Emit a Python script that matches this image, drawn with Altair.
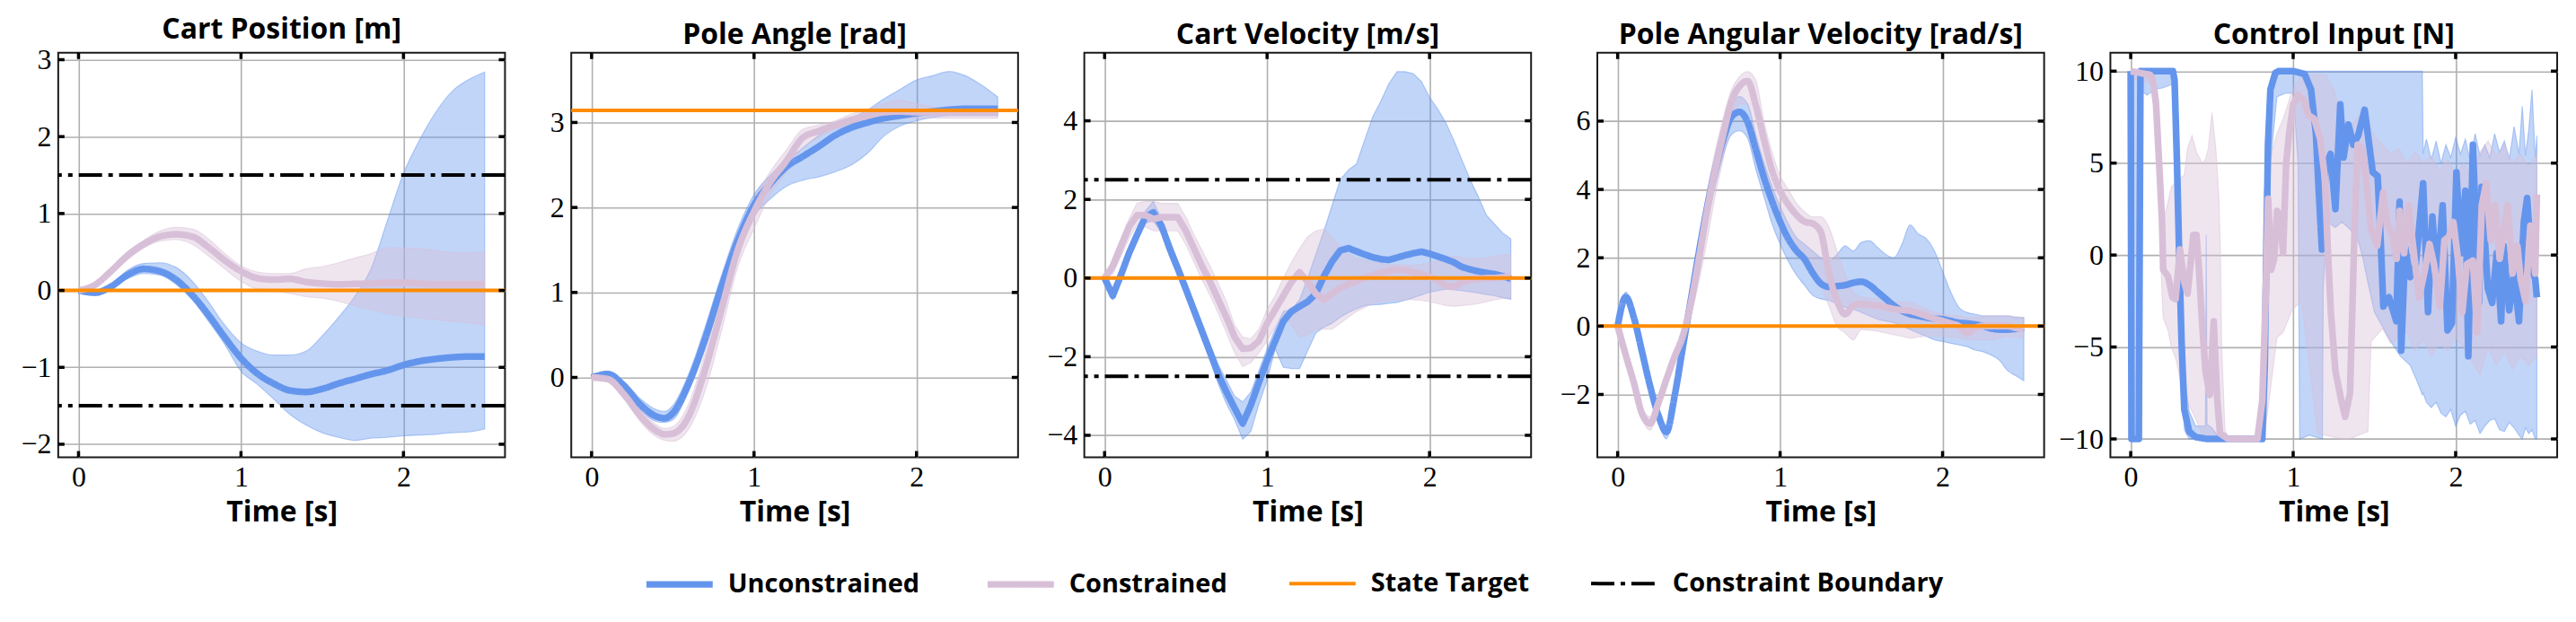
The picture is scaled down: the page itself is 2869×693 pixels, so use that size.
import altair as alt
import pandas as pd

# ---------------- shared text / ticks ----------------
SERIES = ["Unconstrained", "Constrained", "State Target", "Constraint Boundary"]
SERIES_COLORS = ["#6495ED", "#D8BFD8", "#FF8C00", "#000000"]
SERIES_DASH = [[1, 0], [1, 0], [1, 0], [26, 7, 5, 7]]
SERIES_WIDTH = [7.5, 7.5, 4, 4]
TITLES = ["Cart Position [m]", "Pole Angle [rad]", "Cart Velocity [m/s]",
          "Pole Angular Velocity [rad/s]", "Control Input [N]"]
X_TITLE = "Time [s]"
X_TICKS = [0, 1, 2]
X_DOMAIN = [-0.125, 2.625]

# ---------------- Panel 1: Cart Position ----------------
T1 = [0.0, 0.1, 0.2, 0.3, 0.4, 0.5, 0.6, 0.7, 0.8, 0.9, 1.0, 1.1, 1.2, 1.3, 1.4, 1.5,
      1.6, 1.7, 1.8, 1.9, 2.0, 2.1, 2.2, 2.3, 2.4, 2.5]
P1_U_MEAN = [0, -0.03, 0.05, 0.2, 0.28, 0.25, 0.14, -0.06, -0.32, -0.61, -0.88, -1.08, -1.21,
             -1.30, -1.32, -1.28, -1.21, -1.15, -1.09, -1.04, -0.97, -0.92, -0.89, -0.87, -0.86, -0.86]
P1_U_HI = [0, 0, 0.07, 0.26, 0.35, 0.36, 0.3, 0.12, -0.15, -0.45, -0.68, -0.79, -0.84, -0.84,
           -0.79, -0.59, -0.35, -0.08, 0.28, 0.9, 1.52, 1.96, 2.32, 2.59, 2.74, 2.84]
P1_U_LO = [0, -0.05, 0.03, 0.15, 0.22, 0.2, 0.08, -0.12, -0.4, -0.7, -1.05, -1.22, -1.41, -1.61,
           -1.75, -1.85, -1.91, -1.95, -1.92, -1.91, -1.89, -1.88, -1.87, -1.85, -1.84, -1.80]
P1_C_MEAN = [0, 0.07, 0.25, 0.45, 0.6, 0.7, 0.73, 0.7, 0.56, 0.39, 0.25, 0.16, 0.14, 0.15, 0.11,
             0.09, 0.08, 0.085, 0.09, 0.1, 0.1, 0.09, 0.08, 0.08, 0.08, 0.08]
P1_C_HI = [0.02, 0.09, 0.28, 0.5, 0.65, 0.77, 0.82, 0.8, 0.67, 0.48, 0.32, 0.24, 0.22, 0.22, 0.28,
           0.31, 0.36, 0.42, 0.48, 0.55, 0.55, 0.54, 0.52, 0.49, 0.49, 0.5]
P1_C_LO = [-0.02, 0.05, 0.22, 0.4, 0.55, 0.64, 0.66, 0.6, 0.45, 0.28, 0.12, 0.02, 0.0, -0.04, -0.08,
           -0.1, -0.14, -0.2, -0.25, -0.3, -0.33, -0.36, -0.38, -0.4, -0.42, -0.45]
P1_Y_DOMAIN = [-2.17, 3.09]
P1_Y_TICKS = [-2, -1, 0, 1, 2, 3]
P1_TARGET = [0.0]
P1_BOUNDS = [-1.5, 1.5]

# ---------------- Panel 2: Pole Angle ----------------
T2 = [0.0, 0.1, 0.2, 0.3, 0.4, 0.45, 0.5, 0.6, 0.7, 0.8, 0.9, 1.0, 1.1, 1.2, 1.3, 1.4, 1.5,
      1.6, 1.7, 1.8, 1.9, 2.0, 2.1, 2.2, 2.3, 2.4, 2.5]
P2_U_MEAN = [0, 0.04, -0.1, -0.32, -0.46, -0.48, -0.42, -0.06, 0.46, 1.07, 1.61, 2.03, 2.28, 2.48,
             2.6, 2.72, 2.85, 2.94, 3.0, 3.05, 3.08, 3.11, 3.13, 3.15, 3.16, 3.16, 3.16]
P2_U_HI = [0, 0.07, -0.05, -0.25, -0.38, -0.4, -0.33, 0.05, 0.6, 1.2, 1.75, 2.15, 2.38, 2.55, 2.7,
           2.85, 2.95, 3.05, 3.15, 3.28, 3.39, 3.5, 3.55, 3.6, 3.55, 3.44, 3.3]
P2_U_LO = [0, 0.02, -0.14, -0.38, -0.52, -0.53, -0.5, -0.15, 0.35, 0.95, 1.5, 1.9, 2.1, 2.25, 2.32,
           2.36, 2.42, 2.5, 2.64, 2.84, 2.96, 3.02, 3.06, 3.08, 3.08, 3.08, 3.08]
P2_C_MEAN = [0, -0.02, -0.2, -0.45, -0.63, -0.67, -0.66, -0.45, 0.1, 0.8, 1.5, 1.95, 2.3, 2.55,
             2.82, 2.9, 2.97, 3.03, 3.08, 3.12, 3.13, 3.12, 3.12, 3.12, 3.12, 3.12, 3.12]
P2_C_HI = [0.02, 0.03, -0.14, -0.38, -0.56, -0.6, -0.58, -0.3, 0.3, 1.0, 1.65, 2.1, 2.42, 2.68,
           2.92, 2.97, 3.02, 3.1, 3.15, 3.22, 3.26, 3.22, 3.18, 3.16, 3.15, 3.15, 3.15]
P2_C_LO = [-0.02, -0.05, -0.25, -0.52, -0.7, -0.74, -0.75, -0.6, -0.15, 0.55, 1.3, 1.75, 2.15,
           2.42, 2.7, 2.82, 2.92, 2.97, 3.02, 3.04, 3.05, 3.05, 3.05, 3.05, 3.05, 3.05, 3.05]
P2_Y_DOMAIN = [-0.94, 3.82]
P2_Y_TICKS = [0, 1, 2, 3]
P2_TARGET = [3.14159]

# ---------------- Panels 3 & 4 time grid ----------------
T34 = [0.0, 0.05, 0.1, 0.15, 0.2, 0.25, 0.3, 0.35, 0.4, 0.45, 0.5, 0.55, 0.6, 0.65, 0.7, 0.75,
       0.8, 0.85, 0.9, 0.95, 1.0, 1.05, 1.1, 1.15, 1.2, 1.25, 1.3, 1.35, 1.4, 1.45, 1.5, 1.55,
       1.6, 1.65, 1.7, 1.75, 1.8, 1.85, 1.9, 1.95, 2.0, 2.05, 2.1, 2.15, 2.2, 2.25, 2.3, 2.35,
       2.4, 2.45, 2.5]

# ---------------- Panel 3: Cart Velocity ----------------
P3_U_MEAN = [0, -0.45, 0.07, 0.63, 1.1, 1.55, 1.67, 1.33, 0.76, 0.25,
             -0.28, -0.82, -1.36, -1.9, -2.45, -2.9, -3.31, -3.7, -3.23, -2.65,
             -2.1, -1.6, -1.1, -0.85, -0.72, -0.6, -0.4, 0.05, 0.42, 0.7,
             0.76, 0.68, 0.6, 0.53, 0.48, 0.46, 0.52, 0.58, 0.63, 0.67,
             0.62, 0.55, 0.48, 0.4, 0.28, 0.22, 0.17, 0.13, 0.1, 0.05, -0.02]
P3_U_HI = [0, -0.3, 0.2, 0.8, 1.25, 1.7, 1.95, 1.5, 0.95, 0.42,
           -0.1, -0.65, -1.15, -1.7, -2.2, -2.6, -3.0, -3.15, -2.9, -2.35,
           -1.8, -1.3, -0.85, -0.8, -0.55, 0.0, 0.6, 1.2, 1.85, 2.5,
           2.75, 2.9, 3.5, 4.1, 4.5, 4.95, 5.25, 5.25, 5.2, 5.0,
           4.6, 4.3, 3.95, 3.5, 3.0, 2.5, 2.07, 1.6, 1.37, 1.15, 1.0]
P3_U_LO = [0, -0.55, -0.05, 0.45, 0.95, 1.4, 1.45, 1.15, 0.55, 0.05,
           -0.45, -1.0, -1.55, -2.1, -2.7, -3.2, -3.6, -4.1, -3.9, -3.2,
           -2.6, -1.8, -2.27, -2.3, -2.3, -1.85, -1.4, -1.25, -1.15, -1.0,
           -0.88, -0.78, -0.7, -0.68, -0.67, -0.64, -0.62, -0.56, -0.5, -0.43,
           -0.36, -0.32, -0.28, -0.3, -0.32, -0.35, -0.38, -0.42, -0.45, -0.5, -0.54]
P3_C_MEAN = [0, 0.3, 0.8, 1.3, 1.6, 1.6, 1.5, 1.55, 1.55, 1.55,
             1.2, 0.75, 0.3, -0.1, -0.55, -1.0, -1.5, -1.8, -1.78, -1.6,
             -1.15, -0.8, -0.45, -0.1, 0.15, -0.1, -0.4, -0.55, -0.4, -0.25,
             -0.16, -0.08, 0.0, 0.07, 0.14, 0.18, 0.22, 0.2, 0.15, 0.1,
             0.03, -0.05, -0.2, -0.22, -0.1, -0.05, -0.02, 0.0, 0.0, 0.02, 0.05]
P3_C_HI = [0, 0.5, 1.0, 1.5, 1.9, 1.95, 1.95, 1.9, 1.9, 1.9,
           1.55, 1.1, 0.7, 0.3, -0.15, -0.6, -1.2, -1.5, -1.55, -1.3,
           -0.8, -0.45, 0.0, 0.4, 0.75, 1.05, 1.2, 1.25, 1.05, 0.8,
           0.6, 0.5, 0.45, 0.4, 0.37, 0.35, 0.34, 0.33, 0.33, 0.35,
           0.38, 0.45, 0.52, 0.55, 0.52, 0.5, 0.5, 0.52, 0.55, 0.58, 0.6]
P3_C_LO = [0, 0.1, 0.55, 1.0, 1.35, 1.3, 1.2, 1.2, 1.2, 1.2,
           0.85, 0.4, -0.05, -0.45, -0.9, -1.4, -1.9, -2.25, -2.15, -1.9,
           -1.6, -1.25, -0.9, -1.2, -1.5, -1.45, -1.3, -1.3, -1.3, -1.15,
           -1.0, -0.85, -0.75, -0.65, -0.6, -0.58, -0.55, -0.55, -0.55, -0.57,
           -0.6, -0.65, -0.7, -0.72, -0.7, -0.68, -0.65, -0.6, -0.55, -0.52, -0.5]
P3_Y_DOMAIN = [-4.56, 5.73]
P3_Y_TICKS = [-4, -2, 0, 2, 4]
P3_TARGET = [0.0]
P3_BOUNDS = [-2.5, 2.5]

# ---------------- Panel 4: Pole Angular Velocity ----------------
P4_U_MEAN = [0, 0.85, 0.25, -0.75, -1.76, -2.6, -3.1, -2.06, -0.65, 0.75,
             2.16, 3.46, 4.56, 5.47, 6.12, 6.27, 5.97, 5.17, 4.36, 3.66,
             3.06, 2.56, 2.21, 1.96, 1.56, 1.25, 1.15, 1.17, 1.2, 1.27,
             1.3, 1.2, 1.0, 0.8, 0.6, 0.45, 0.35, 0.3, 0.25, 0.22,
             0.2, 0.15, 0.1, 0.08, 0.05, 0.0, -0.07, -0.1, -0.1, -0.08, -0.05]
P4_U_HI = [0, 1.0, 0.4, -0.6, -1.6, -2.4, -2.9, -1.8, -0.4, 1.0,
           2.5, 3.9, 5.0, 5.9, 6.5, 6.72, 6.5, 5.6, 4.8, 4.1,
           3.5, 3.0, 2.6, 2.4, 2.2, 2.0, 1.9, 2.1, 2.35, 2.2,
           2.45, 2.5, 2.3, 2.1, 2.0, 2.4, 2.96, 2.7, 2.56, 2.2,
           1.6, 1.0, 0.55, 0.4, 0.35, 0.3, 0.3, 0.3, 0.3, 0.25, 0.25]
P4_U_LO = [0, 0.7, 0.1, -0.9, -1.9, -2.8, -3.3, -2.3, -0.9, 0.5,
           1.8, 3.0, 4.1, 5.0, 5.6, 5.72, 5.5, 4.6, 3.8, 3.0,
           2.4, 1.9, 1.5, 1.2, 0.9, 0.8, 0.75, 0.65, 0.55, 0.5,
           0.4, 0.3, 0.2, 0.15, 0.1, 0.0, -0.1, -0.2, -0.3, -0.4,
           -0.45, -0.5, -0.55, -0.6, -0.7, -0.75, -0.85, -1.0, -1.3, -1.45, -1.6]
P4_C_MEAN = [0, -0.85, -1.66, -2.56, -2.85, -2.26, -1.56, -0.9, -0.3, 0.65,
             1.96, 3.36, 4.56, 5.62, 6.57, 7.02, 7.17, 6.47, 5.47, 4.56,
             3.96, 3.56, 3.26, 3.06, 3.0, 2.76, 1.56, 0.75, 0.35, 0.6,
             0.65, 0.62, 0.6, 0.55, 0.5, 0.47, 0.45, 0.38, 0.3, 0.22,
             0.15, 0.08, 0.0, -0.2, -0.05, 0.0, 0.0, 0.0, 0.0, -0.05, -0.1]
P4_C_HI = [0.05, -0.7, -1.5, -2.4, -2.65, -2.1, -1.4, -0.75, -0.1, 0.95,
           2.5, 3.9, 5.1, 6.1, 6.9, 7.3, 7.45, 7.2, 6.0, 5.1,
           4.4, 4.0, 3.6, 3.35, 3.2, 3.2, 2.9, 2.2, 1.5, 1.0,
           0.85, 0.82, 0.8, 0.75, 0.7, 0.7, 0.7, 0.6, 0.5, 0.42,
           0.35, 0.32, 0.3, 0.25, 0.25, 0.28, 0.3, 0.3, 0.3, 0.28, 0.25]
P4_C_LO = [-0.05, -1.0, -1.8, -2.7, -3.05, -2.45, -1.75, -1.05, -0.5, 0.3,
           1.3, 2.5, 3.8, 4.9, 5.9, 6.5, 6.5, 5.6, 4.6, 3.9,
           3.4, 2.9, 2.4, 2.0, 1.7, 1.2, 0.6, 0.0, -0.2, -0.4,
           -0.1, -0.12, -0.15, -0.2, -0.25, -0.3, -0.35, -0.32, -0.3, -0.3,
           -0.3, -0.32, -0.35, -0.38, -0.4, -0.4, -0.4, -0.35, -0.3, -0.32, -0.35]
P4_Y_DOMAIN = [-3.84, 8.0]
P4_Y_TICKS = [-2, 0, 2, 4, 6]
P4_TARGET = [0.0]

# ---------------- Panel 5: Control Input ----------------
T5_U = [0, 0.005, 0.05, 0.06, 0.26, 0.27, 0.285, 0.298, 0.313, 0.33, 0.36, 0.4, 0.47, 0.81,
        0.825, 0.835, 0.845, 0.86, 0.89, 0.91, 1.0, 1.07, 1.11, 1.14, 1.158, 1.177, 1.2, 1.23,
        1.26, 1.29, 1.31, 1.34, 1.37, 1.40, 1.44, 1.49, 1.52, 1.54, 1.555, 1.59, 1.635, 1.655,
        1.665, 1.69, 1.72, 1.755, 1.80, 1.83, 1.857, 1.885, 1.92, 1.95, 1.977, 2.005, 2.032,
        2.06, 2.078, 2.106, 2.143, 2.16, 2.198, 2.225, 2.253, 2.28, 2.296, 2.33, 2.36, 2.39,
        2.42, 2.44, 2.47, 2.49, 2.5]
P5_U_MEAN = [10, -10, -10, 10, 10, 9.5, 5.0, 0.15, -4.7, -8.4, -9.6, -9.9, -10, -10,
             -6, 0, 6, 9, 9.9, 10, 10, 9.85, 9.0, 6.6, 3.4, 0.3, 4.8, 5.5,
             2.5, 8.2, 5.3, 7.1, 6.0, 6.5, 7.9, 4.5, 4.3, 0.5, -2.8, -2.3, -3.6, 2.9,
             -5.2, 0.4, -1.2, -0.5, 3.9, -3.1, 2.1, -1.5, 2.7, -4.1, -3.7, 4.5, 0.1,
             3.5, -5.5, 6.0, -2.6, 3.7, -1.8, -2.6, 0.1, -3.6, 0.5, -3.0, -1.0, -3.6,
             1.8, 3.1, -0.8, -1.3, -2.3]
T5_C = [0, 0.12, 0.14, 0.156, 0.175, 0.193, 0.2, 0.23, 0.257, 0.276, 0.303, 0.331, 0.35,
        0.386, 0.405, 0.423, 0.441, 0.46, 0.487, 0.511, 0.524, 0.533, 0.55, 0.6, 0.78, 0.81,
        0.828, 0.846, 0.865, 0.883, 0.901, 0.92, 0.938, 0.957, 0.975, 1.0, 1.03, 1.067, 1.094,
        1.13, 1.167, 1.195, 1.214, 1.232, 1.26, 1.296, 1.32, 1.35, 1.379, 1.397, 1.425, 1.453,
        1.48, 1.517, 1.554, 1.581, 1.609, 1.637, 1.655, 1.683, 1.71, 1.738, 1.775, 1.811,
        1.839, 1.867, 1.903, 1.931, 1.959, 1.986, 2.014, 2.041, 2.069, 2.106, 2.133, 2.161,
        2.188, 2.216, 2.244, 2.271, 2.29, 2.32, 2.35, 2.38, 2.4, 2.43, 2.46, 2.49, 2.5]
P5_C_MEAN = [10, 9.8, 9.3, 8.2, 5.0, 1.8, -0.8, -1.15, -2.3, -2.4, 0.3, -1.5, -2.1,
             1.1, 1.1, -1.15, -3.9, -6.3, -7.6, -3.6, -6.3, -7.9, -9.7, -10, -10, -7.9,
             -3.1, 3.06, -0.8, -0.2, 2.4, 2.1, 0.14, 5.0, 6.6, 8.2, 8.7, 8.4, 7.6,
             7.4, 6.3, 4.2, 0.14, -3.1, -6.3, -7.9, -8.8, -7.5, 1.8, 6.0, 5.8, 3.7,
             1.4, 0.5, 3.4, 1.6, 1.1, -0.2, 2.4, 0.1, 2.7, 0.5, -2.3, -0.8,
             0.6, -0.5, -2.8, 0.8, 1.0, 1.8, -0.2, -3.1, -0.5, -0.3, -4.2, 2.7,
             3.9, 0.8, 2.7, -0.2, 0.9, 2.7, -1.0, 0.5, -1.3, -2.5, 1.6, -1.0, 3.3]
T5_UB = [0.0, 0.05, 0.055, 0.06, 0.1, 0.15, 0.2, 0.26, 0.27, 0.29, 0.31, 0.33, 0.36, 0.4,
         0.46, 0.465, 0.47, 0.5, 0.55, 0.8, 0.82, 0.84, 0.86, 0.9, 0.95, 1.0, 1.03, 1.04,
         1.1, 1.18, 1.185, 1.21, 1.26, 1.3, 1.35, 1.4, 1.43, 1.46, 1.5, 1.55, 1.6, 1.66,
         1.72, 1.76, 1.795, 1.8, 1.82, 1.85, 1.88, 1.91, 1.94, 1.97, 2.0, 2.03, 2.06, 2.09,
         2.12, 2.15, 2.18, 2.21, 2.24, 2.27, 2.3, 2.33, 2.36, 2.39, 2.41, 2.43, 2.45, 2.47,
         2.49, 2.5]
P5_U_HI = [10, 10, 10, 10, 10, 10, 10, 10, 10, 6.0, 1.0, -6.5, -8.5, -9.3,
           -9.3, 1.1, -9.2, -9.4, -10, -10, -4.0, 7.0, 9.5, 9.9, 9.9, 9.9, 10, 10,
           10, 10, 10, 10, 10, 10, 10, 10, 10, 10, 10, 10, 10, 10,
           10, 10, 10, 5.5, 6.3, 5.2, 6.2, 5.0, 6.0, 5.3, 6.4, 5.5, 6.3, 5.1,
           6.6, 5.4, 6.0, 5.3, 6.6, 5.6, 6.2, 5.2, 7.0, 5.5, 8.1, 5.4, 6.8, 9.0,
           5.3, 6.5]
P5_U_LO = [-10, -10, 8.0, 9.0, 8.7, 9.0, 9.1, 9.3, 8.5, 2.0, -5.0, -9.5, -10, -10,
           -10, -10, -10, -10, -10, -10, -10, -5, 5.0, 8.6, 8.8, 8.8, 5.0, -10,
           -9.8, -10, -1.8, 1.8, 1.5, 1.8, 1.4, 0.8, -0.2, -1.5, -3.1, -3.9, -4.7, -5.5,
           -6.0, -6.8, -7.6, -7.5, -8.0, -8.3, -8.0, -8.6, -8.8, -8.4, -9.3, -8.7, -8.5, -9.2,
           -9.0, -9.7, -9.3, -9.0, -8.9, -9.5, -9.6, -9.1, -9.4, -9.8, -10, -9.4, -9.7, -9.5,
           -10, -10]
T5_CB = [0.0, 0.14, 0.15, 0.17, 0.19, 0.2, 0.23, 0.25, 0.28, 0.33, 0.35, 0.377, 0.405, 0.441,
         0.46, 0.478, 0.5, 0.524, 0.543, 0.552, 0.56, 0.58, 0.6, 0.8, 0.82, 0.85, 0.9, 0.938,
         0.993, 1.05, 1.1, 1.15, 1.2, 1.25, 1.3, 1.35, 1.4, 1.46, 1.48, 1.5, 1.55, 1.6, 1.65,
         1.7, 1.75, 1.8, 1.85, 1.9, 1.95, 2.0, 2.05, 2.1, 2.15, 2.2, 2.25, 2.3, 2.35, 2.4,
         2.45, 2.5]
P5_C_HI = [10, 10, 9.8, 8.5, 4.0, 1.8, 2.9, 3.7, 4.0, 4.35, 5.8, 6.5, 5.6, 5.0,
           5.2, 5.8, 7.75, 5.8, 3.1, 0.3, -5.0, -9.5, -10, -10, 3.4, 5.0, 6.6, 7.4,
           8.9, 9.8, 9.8, 9.8, 9.8, 9.0, 7.5, 7.0, 7.5, 7.7, 6.8, 6.5, 6.0, 5.5, 5.8,
           5.0, 5.6, 5.0, 5.4, 4.6, 5.2, 4.5, 5.0, 4.2, 5.6, 6.2, 5.4, 6.0, 5.0, 5.5,
           4.8, 5.5]
P5_C_LO = [9.6, 9.3, 8.0, 4.0, -1.5, -3.4, -4.1, -5.0, -5.7, -7.9, -8.0, -8.5, -9.0, -9.8,
           -10, -10, -10, -10, -10, -10, -10, -10, -10, -10, -10, -8.0, -4.5, -4.2,
           -3.0, -2.5, -6.0, -9.7, -9.8, -9.9, -10, -10, -9.8, -9.6, -4.7, -4.5, -4.0, -4.8, -4.5,
           -4.2, -5.2, -4.6, -5.5, -4.8, -5.2, -4.5, -5.0, -5.8, -6.5, -5.0, -6.0, -5.2, -6.2, -5.5,
           -6.0, -5.5]
P5_Y_DOMAIN = [-11.0, 11.0]
P5_Y_TICKS = [-10, -5, 0, 5, 10]

# ---------------- styling ----------------
SANS = "Open Sans"
SERIF = "Liberation Serif"
W, H = 499, 452
TICK_LEN = 7
COL_U, COL_C = SERIES_COLORS[0], SERIES_COLORS[1]

LEG = alt.Legend(title=None, orient="none", legendX=653, legendY=553, direction="horizontal",
                 columns=4, symbolType="stroke", symbolSize=5476, labelFont=SANS,
                 labelFontSize=29, labelFontWeight="bold", labelColor="black", labelOffset=13,
                 columnPadding=61, padding=0, labelLimit=500)

COLOR = alt.Color("series:N", scale=alt.Scale(domain=SERIES, range=SERIES_COLORS), legend=LEG)
DASH = alt.StrokeDash("series:N", scale=alt.Scale(domain=SERIES, range=SERIES_DASH), legend=LEG)
SW = alt.StrokeWidth("series:N", scale=alt.Scale(type="ordinal", domain=SERIES, range=SERIES_WIDTH),
                     legend=LEG)


def make_panel(title, ydom, yticks, tb_u, u_lo, u_hi, tb_c, c_lo, c_hi,
               tl_u, u_mean, tl_c, c_mean, target=None, bounds=None, interp="linear"):
    def X():
        return alt.X("t:Q", scale=alt.Scale(domain=X_DOMAIN, nice=False, zero=False),
                     axis=alt.Axis(values=X_TICKS, title=X_TITLE, format="d"))

    def Y(f):
        return alt.Y(f + ":Q", scale=alt.Scale(domain=ydom, nice=False, zero=False),
                     axis=alt.Axis(values=yticks, title=None, format="d"))

    band_u = alt.Chart(pd.DataFrame({"t": tb_u, "lo": u_lo, "hi": u_hi})).mark_area(
        fill=COL_U, fillOpacity=0.4, stroke=COL_U, strokeOpacity=0.45, strokeWidth=1.2,
        interpolate=interp).encode(x=X(), y=Y("lo"), y2=alt.Y2("hi:Q"))
    band_c = alt.Chart(pd.DataFrame({"t": tb_c, "lo": c_lo, "hi": c_hi})).mark_area(
        fill=COL_C, fillOpacity=0.4, stroke=COL_C, strokeOpacity=0.45, strokeWidth=1.2,
        interpolate=interp).encode(x=X(), y=Y("lo"), y2=alt.Y2("hi:Q"))
    line_u = alt.Chart(pd.DataFrame({"t": tl_u, "v": u_mean, "series": "Unconstrained"})).mark_line(
        interpolate=interp, strokeJoin="round", strokeCap="butt").encode(
        x=X(), y=Y("v"), color=COLOR, strokeDash=DASH, strokeWidth=SW)
    line_c = alt.Chart(pd.DataFrame({"t": tl_c, "v": c_mean, "series": "Constrained"})).mark_line(
        interpolate=interp, strokeJoin="round", strokeCap="butt").encode(
        x=X(), y=Y("v"), color=COLOR, strokeDash=DASH, strokeWidth=SW)
    layers = [band_u, band_c, line_u, line_c]
    if target is not None:
        layers.append(alt.Chart(pd.DataFrame({"v": target, "series": "State Target"})).mark_rule().encode(
            y=Y("v"), color=COLOR, strokeDash=DASH, strokeWidth=SW))
    if bounds is not None:
        layers.append(alt.Chart(pd.DataFrame({"v": bounds, "series": "Constraint Boundary"})).mark_rule(
            strokeCap="butt").encode(y=Y("v"), color=COLOR, strokeDash=DASH, strokeWidth=SW))
    xt = pd.DataFrame({"t": X_TICKS})
    yt = pd.DataFrame({"v": yticks})
    tick_style = dict(color="black", strokeWidth=3.5)
    layers += [
        alt.Chart(xt).mark_rule(**tick_style).encode(x=X(), y=alt.value(H), y2=alt.value(H - TICK_LEN)),
        alt.Chart(xt).mark_rule(**tick_style).encode(x=X(), y=alt.value(0), y2=alt.value(TICK_LEN)),
        alt.Chart(yt).mark_rule(**tick_style).encode(y=Y("v"), x=alt.value(0), x2=alt.value(TICK_LEN)),
        alt.Chart(yt).mark_rule(**tick_style).encode(y=Y("v"), x=alt.value(W), x2=alt.value(W - TICK_LEN)),
    ]
    return alt.layer(*layers).properties(width=W, height=H, title=title)


p1 = make_panel(TITLES[0], P1_Y_DOMAIN, P1_Y_TICKS, T1, P1_U_LO, P1_U_HI, T1, P1_C_LO, P1_C_HI,
                T1, P1_U_MEAN, T1, P1_C_MEAN, target=P1_TARGET, bounds=P1_BOUNDS, interp="monotone")
p2 = make_panel(TITLES[1], P2_Y_DOMAIN, P2_Y_TICKS, T2, P2_U_LO, P2_U_HI, T2, P2_C_LO, P2_C_HI,
                T2, P2_U_MEAN, T2, P2_C_MEAN, target=P2_TARGET, interp="monotone")
p3 = make_panel(TITLES[2], P3_Y_DOMAIN, P3_Y_TICKS, T34, P3_U_LO, P3_U_HI, T34, P3_C_LO, P3_C_HI,
                T34, P3_U_MEAN, T34, P3_C_MEAN, target=P3_TARGET, bounds=P3_BOUNDS)
p4 = make_panel(TITLES[3], P4_Y_DOMAIN, P4_Y_TICKS, T34, P4_U_LO, P4_U_HI, T34, P4_C_LO, P4_C_HI,
                T34, P4_U_MEAN, T34, P4_C_MEAN, target=P4_TARGET, interp="monotone")
p5 = make_panel(TITLES[4], P5_Y_DOMAIN, P5_Y_TICKS, T5_UB, P5_U_LO, P5_U_HI, T5_CB, P5_C_LO, P5_C_HI,
                T5_U, P5_U_MEAN, T5_C, P5_C_MEAN)

chart = alt.hconcat(p1, p2, p3, p4, p5, spacing=74, bounds="flush").resolve_scale(
    x="independent", y="independent"
).properties(
    padding={"left": 13, "top": 6, "right": 10, "bottom": 10}
).configure_view(
    stroke="#1a1a1a", strokeWidth=2
).configure_axis(
    grid=True, gridColor="#b0b0b0", gridWidth=1.6, gridOpacity=1, domain=False, ticks=False,
    tickSize=0, labelFont=SERIF, labelFontSize=32, labelColor="black", titleFont=SANS,
    titleFontSize=32, titleFontWeight="bold", titleColor="black"
).configure_axisX(
    labelPadding=7, titlePadding=8
).configure_axisY(
    labelPadding=8
).configure_title(
    font=SANS, fontSize=32, fontWeight="bold", color="black", anchor="middle", offset=1,
    baseline="alphabetic"
)

chart.save("out.html", embed_options={"renderer": "svg", "actions": False})
